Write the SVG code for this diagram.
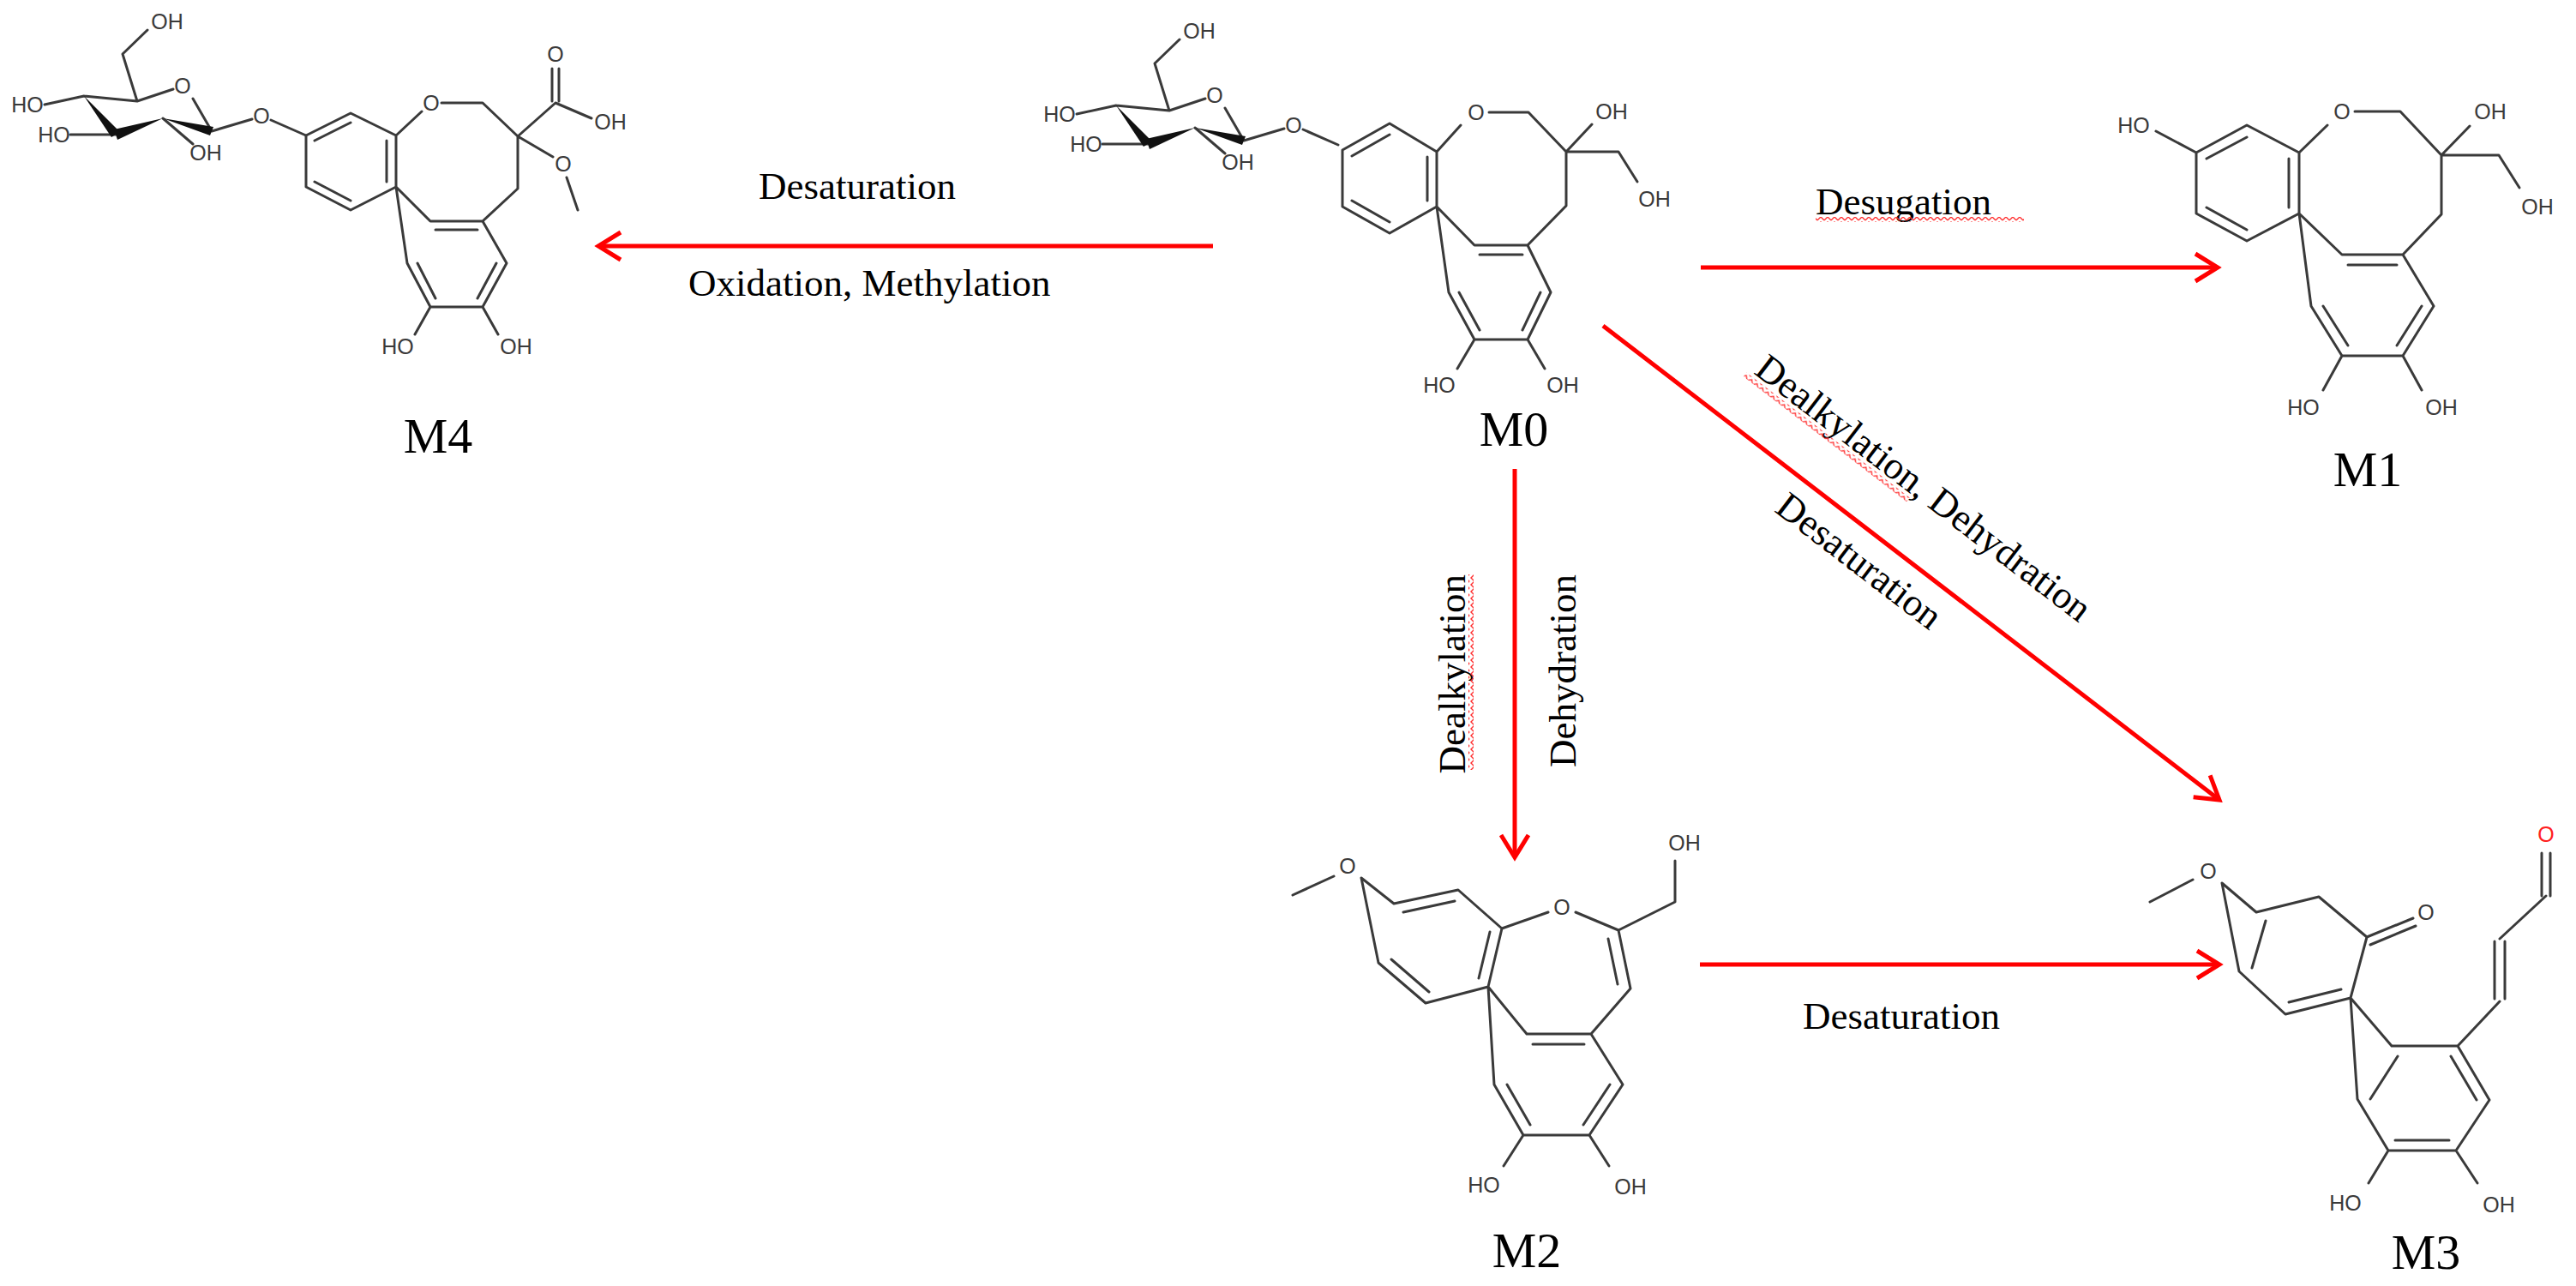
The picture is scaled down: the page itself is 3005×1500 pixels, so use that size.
<svg xmlns="http://www.w3.org/2000/svg" xmlns:xlink="http://www.w3.org/1999/xlink" width="3005" height="1500" viewBox="0 0 3005 1500">
<style>
.b{stroke:#3a3a3a;stroke-width:3;fill:none;stroke-linecap:round;stroke-linejoin:round}
.w{fill:#111;stroke:none}
.a{font-family:"Liberation Sans",Arial,sans-serif;font-size:25px;fill:#3a3a3a;text-anchor:middle;dominant-baseline:central}
.t{font-family:"Liberation Serif","Times New Roman",serif;font-size:45px;fill:#000}
.m{font-family:"Liberation Serif","Times New Roman",serif;font-size:58px;fill:#000;text-anchor:middle}
.r{stroke:#ff0000;stroke-width:5;fill:none}
</style>
<defs>
<marker id="ah" markerUnits="userSpaceOnUse" markerWidth="40" markerHeight="40" viewBox="0 0 40 40" refX="34" refY="20" orient="auto">
<path d="M8,4 L34,20 L8,36" stroke="#ff0000" stroke-width="5" fill="none"/>
</marker>
<pattern id="sq" patternUnits="userSpaceOnUse" width="8" height="6">
<path d="M0,5 L4,1 L8,5" stroke="#ff3030" stroke-width="1.3" fill="none"/>
</pattern>
<g id="sugar">
<path class="b" d="M172,35 L143,63 L160,118 L202,104 M225,115 L247,153 M98,112 L160,118 M98,112 L52,122 M135,157 L82,157 M190,138 L225,168 M247,153 L294,139 M316,140 L357,158"/>
<polygon class="w" points="190,138 249,148 245,158"/>
<polygon class="w" points="190,138 133,151 137,163"/>
<polygon class="w" points="98,112 130,160 140,154"/>
<text class="a" x="195" y="25">OH</text>
<text class="a" x="213" y="100">O</text>
<text class="a" x="32" y="122">HO</text>
<text class="a" x="63" y="157">HO</text>
<text class="a" x="240" y="178">OH</text>
<text class="a" x="305" y="135">O</text>
</g>
</defs>
<rect width="3005" height="1500" fill="#fff"/>

<g id="M4">
<use xlink:href="#sugar"/>
<path class="b" d="M357,158 L409,132 L462,158 L462,218 L409,245 L357,218 Z M367,164 L409,143 M451,164 L451,212 M409,234 L367,212 M462,158 L492,130 M515,120 L563,120 L604,159 L604,220 L563,258 M462,218 L502,258 L563,258 L591,307 L563,358 L502,358 L475,307 Z M508,268 L557,268 M579,307 L557,348 M508,348 L487,307 M502,358 L484,390 M563,358 L581,390 M604,159 L648,120 L690,138 M644,118 L644,80 M652,118 L652,80 M604,159 L645,183 M661,207 L674,245"/>
<text class="a" x="503" y="120">O</text>
<text class="a" x="648" y="63">O</text>
<text class="a" x="712" y="142">OH</text>
<text class="a" x="657" y="191">O</text>
<text class="a" x="464" y="404">HO</text>
<text class="a" x="602" y="404">OH</text>
<text class="m" x="511" y="528">M4</text>
</g>

<g id="M0">
<use xlink:href="#sugar" x="1204" y="11"/>
<path class="b" d="M1566,175 L1621,144 L1676,177 L1676,241 L1621,272 L1566,241 Z M1577,182 L1621,157 M1665,183 L1665,234 M1621,259 L1577,234 M1676,177 L1704,146 M1737,131 L1783,131 L1827,177 L1827,240 L1782,286 M1676,241 L1720,286 L1782,286 L1809,341 L1782,396 L1720,396 L1690,341 Z M1726,297 L1776,297 M1797,341 L1776,385 M1726,385 L1702,341 M1720,396 L1700,430 M1782,396 L1802,430 M1827,177 L1857,145 M1827,177 L1888,177 L1910,212"/>
<text class="a" x="1722" y="131">O</text>
<text class="a" x="1880" y="130">OH</text>
<text class="a" x="1930" y="232">OH</text>
<text class="a" x="1679" y="449">HO</text>
<text class="a" x="1823" y="449">OH</text>
<text class="m" x="1766" y="520">M0</text>
</g>

<g id="M1">
<path class="b" d="M2562,178 L2621,146 L2682,178 L2682,249 L2621,281 L2562,249 Z M2574,185 L2621,160 M2670,185 L2670,242 M2621,268 L2574,242 M2562,178 L2515,153 M2682,178 L2715,146 M2747,130 L2800,130 L2848,181 L2848,250 L2803,297 M2682,249 L2732,297 L2803,297 L2839,357 L2803,415 L2732,415 L2696,357 Z M2739,309 L2796,309 M2825,357 L2796,403 M2739,403 L2710,357 M2732,415 L2710,455 M2803,415 L2825,455 M2848,181 L2881,147 M2848,181 L2915,181 L2939,219"/>
<text class="a" x="2489" y="146">HO</text>
<text class="a" x="2732" y="130">O</text>
<text class="a" x="2905" y="130">OH</text>
<text class="a" x="2960" y="241">OH</text>
<text class="a" x="2687" y="475">HO</text>
<text class="a" x="2848" y="475">OH</text>
<text class="m" x="2762" y="567">M1</text>
</g>

<g id="M2">
<path class="b" d="M1508,1044 L1556,1022 M1588,1024 L1626,1054 L1701,1038 L1752,1083 L1736,1151 L1663,1170 L1608,1123 Z M1637,1064 L1697,1051 M1738,1087 L1725,1141 M1667,1157 L1623,1119 M1752,1083 L1806,1064 M1838,1064 L1888,1085 L1902,1153 L1856,1206 M1876,1095 L1887,1148 M1888,1085 L1954,1052 L1954,1004 M1736,1151 L1781,1206 L1856,1206 L1893,1265 L1854,1324 L1777,1324 L1743,1265 Z M1788,1218 L1848,1218 M1878,1265 L1847,1312 M1785,1312 L1758,1265 M1777,1324 L1754,1360 M1854,1324 L1877,1360"/>
<text class="a" x="1572" y="1010">O</text>
<text class="a" x="1822" y="1058">O</text>
<text class="a" x="1965" y="983">OH</text>
<text class="a" x="1731" y="1382">HO</text>
<text class="a" x="1902" y="1384">OH</text>
<text class="m" x="1781" y="1478">M2</text>
</g>

<g id="M3">
<path class="b" d="M2508,1052 L2558,1026 M2592,1030 L2632,1064 L2705,1046 L2761,1093 L2742,1164 L2666,1183 L2612,1133 Z M2643,1074 L2627,1129 M2731,1154 L2670,1169 M2761,1093 L2815,1071 M2765,1102 L2818,1080 M2742,1164 L2790,1220 L2867,1220 L2904,1283 L2865,1342 L2786,1342 L2750,1282 Z M2797,1232 L2765,1282 M2859,1232 L2889,1283 M2857,1330 L2794,1330 M2867,1220 L2916,1168 M2910,1165 L2910,1098 M2922,1165 L2922,1098 M2916,1095 L2970,1045 M2965,1045 L2965,995 M2975,1045 L2975,995 M2786,1342 L2763,1380 M2865,1342 L2890,1380"/>
<text class="a" x="2576" y="1016">O</text>
<text class="a" x="2830" y="1064">O</text>
<text class="a" x="2970" y="973" style="fill:#ff2020">O</text>
<text class="a" x="2736" y="1403">HO</text>
<text class="a" x="2915" y="1405">OH</text>
<text class="m" x="2830" y="1480">M3</text>
</g>

<g id="connectors">
<line class="r" x1="1415" y1="287" x2="698" y2="287" marker-end="url(#ah)"/>
<line class="r" x1="1984" y1="312" x2="2587" y2="312" marker-end="url(#ah)"/>
<line class="r" x1="1767" y1="547" x2="1767" y2="1000" marker-end="url(#ah)"/>
<line class="r" x1="1870" y1="380" x2="2589" y2="933" marker-end="url(#ah)"/>
<line class="r" x1="1983" y1="1125" x2="2589" y2="1125" marker-end="url(#ah)"/>
</g>

<g id="labels">
<text class="t" x="885" y="232">Desaturation</text>
<text class="t" x="803" y="345">Oxidation, Methylation</text>
<text class="t" x="2118" y="250">Desugation</text>
<rect x="2118" y="253" width="243" height="6" fill="url(#sq)"/>
<text class="t" x="2103" y="1200">Desaturation</text>
<g transform="translate(1709,670) rotate(-90)">
<text class="t" x="0" y="0" text-anchor="end">Dealkylation</text>
<rect x="-228" y="4" width="228" height="6" fill="url(#sq)"/>
</g>
<g transform="translate(1838,670) rotate(-90)">
<text class="t" x="0" y="0" text-anchor="end">Dehydration</text>
</g>
<g transform="translate(2235,581) rotate(37.5)">
<text class="t" x="0" y="0" text-anchor="middle">Dealkylation, Dehydration</text>
<rect x="-246" y="4" width="240" height="6" fill="url(#sq)"/>
</g>
<g transform="translate(2160,666) rotate(37.5)">
<text class="t" x="0" y="0" text-anchor="middle">Desaturation</text>
</g>
</g>
</svg>
